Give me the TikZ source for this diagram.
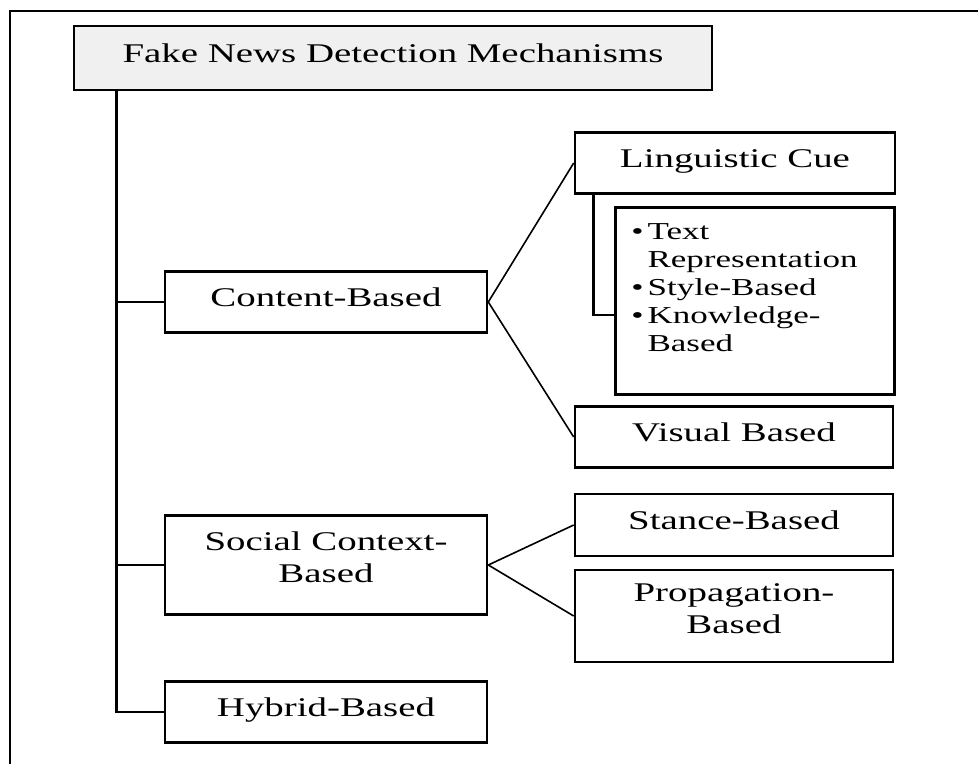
\documentclass[tikz,border=0pt]{standalone}
\usepackage{fontspec}
\setmainfont[FakeStretch=1.44]{Liberation Serif}
\begin{document}
\begin{tikzpicture}[x=1pt,y=-1pt,
  box/.style={draw,line width=2.6pt,minimum height=61pt,inner sep=0pt,align=center,text depth=9pt,font=\fontsize{27}{32}\selectfont},
  link/.style={line width=1.6pt}]
\useasboundingbox (0,0) rectangle (978,764);
\draw[line width=2.8pt] (10,764) |- (978,11);

\node[box,fill=black!6,minimum width=638pt,minimum height=64pt] (root) at (393,58) {Fake News Detection Mechanisms};
\node[box,minimum width=322pt] (content) at (326,302) {Content-Based};
\node[box,minimum width=322pt,minimum height=99pt,text depth=16pt] (social) at (326,565) {Social Context-\\Based};
\node[box,minimum width=322pt] (hybrid) at (326,712) {Hybrid-Based};
\node[box,minimum width=320pt] (ling) at (735,163) {Linguistic Cue};
\node[draw,line width=2.6pt,anchor=north west,text width=247pt,inner xsep=16pt,inner ysep=12pt,text height=20pt,text depth=143pt,font=\fontsize{24.3}{28}\selectfont] (cues) at (614,206) {\begin{tabular}[t]{@{}l@{\,}l@{}}\textbullet&Text\\&Representation\\\textbullet&Style-Based\\\textbullet&Knowledge-\\&Based\end{tabular}};
\node[box,minimum width=318pt] (visual) at (734,437) {Visual Based};
\node[box,minimum width=318pt,minimum height=62pt] (stance) at (734,525) {Stance-Based};
\node[box,minimum width=318pt,minimum height=92pt,text depth=14pt] (prop) at (734,616) {Propagation-\\Based};

\coordinate (trunk) at ([xshift=44pt]root.south west);
\draw[line width=2.6pt] (trunk) |- (hybrid.west);
\draw[line width=2.6pt] (trunk |- content.west) -- (content.west);
\draw[line width=2.6pt] (trunk |- social.west) -- (social.west);
\draw[line width=2.6pt] ([xshift=20pt]ling.south west) |- ([yshift=-109pt]cues.north west);
\draw[link] (content.east) -- (ling.west);
\draw[link] (content.east) -- (visual.west);
\draw[link] (social.east) -- (stance.west);
\draw[link] (social.east) -- (prop.west);
\end{tikzpicture}
\end{document}
